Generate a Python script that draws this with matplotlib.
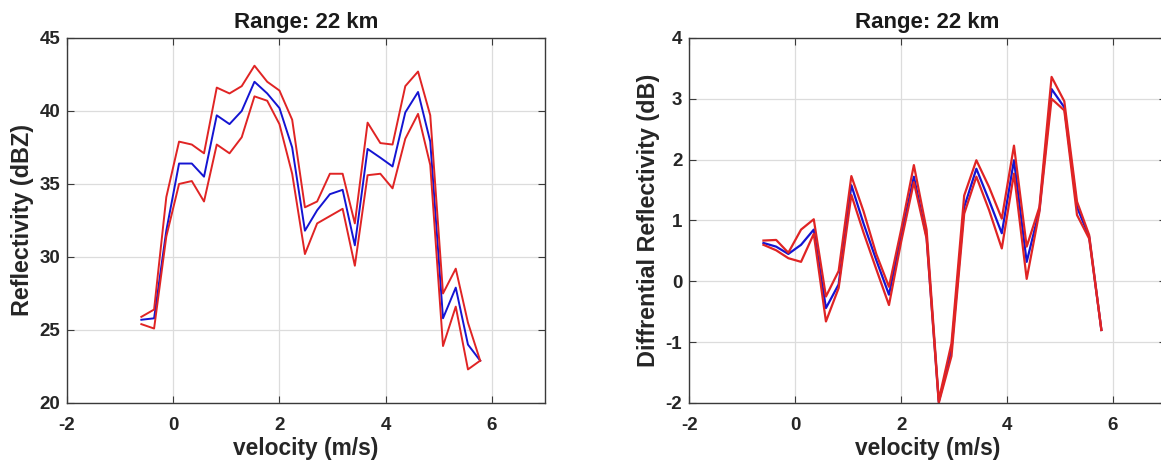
import numpy as np
import matplotlib.pyplot as plt

plt.rcParams['font.family'] = ['Liberation Sans', 'DejaVu Sans']
plt.rcParams['font.weight'] = 'bold'
plt.rcParams['axes.unicode_minus'] = False

# velocity bins (m/s)
velocity = [-0.60, -0.36, -0.13, 0.11, 0.35, 0.58, 0.82, 1.06, 1.29, 1.53,
            1.77, 2.00, 2.24, 2.48, 2.71, 2.95, 3.19, 3.42, 3.66, 3.90,
            4.13, 4.37, 4.61, 4.84, 5.08, 5.32, 5.55, 5.78]

# reflectivity (dBZ): mean and upper/lower bounds
refl_mean = [25.7, 25.8, 31.8, 36.4, 36.4, 35.5, 39.7, 39.1, 40.0, 42.0,
             41.2, 40.2, 37.5, 31.8, 33.2, 34.3, 34.6, 30.8, 37.4, 36.8,
             36.2, 39.9, 41.3, 37.9, 25.8, 27.9, 24.0, 22.9]
refl_upper = [25.9, 26.4, 34.1, 37.9, 37.7, 37.1, 41.6, 41.2, 41.7, 43.1,
              42.0, 41.4, 39.4, 33.4, 33.8, 35.7, 35.7, 32.3, 39.2, 37.8,
              37.7, 41.7, 42.7, 39.7, 27.5, 29.2, 25.5, 22.9]
refl_lower = [25.4, 25.1, 31.4, 35.0, 35.2, 33.8, 37.7, 37.1, 38.2, 41.0,
              40.7, 39.1, 35.7, 30.2, 32.3, 32.8, 33.3, 29.4, 35.6, 35.7,
              34.7, 38.1, 39.8, 36.3, 23.9, 26.6, 22.3, 22.9]

# differential reflectivity (dB): mean and upper/lower bounds
zdr_mean = [0.63, 0.57, 0.45, 0.60, 0.85, -0.44, -0.05, 1.58, 0.95, 0.35,
            -0.22, 0.75, 1.72, 0.73, -1.98, -1.13, 1.22, 1.85, 1.33, 0.79,
            1.99, 0.32, 1.17, 3.16, 2.86, 1.22, 0.73, -0.80]
zdr_upper = [0.67, 0.68, 0.47, 0.85, 1.02, -0.25, 0.17, 1.73, 1.15, 0.45,
             -0.09, 0.85, 1.91, 0.85, -1.95, -1.02, 1.41, 1.99, 1.55, 1.03,
             2.23, 0.57, 1.22, 3.36, 2.96, 1.31, 0.76, -0.80]
zdr_lower = [0.60, 0.51, 0.38, 0.32, 0.78, -0.66, -0.11, 1.42, 0.80, 0.20,
             -0.39, 0.65, 1.63, 0.70, -2.00, -1.23, 1.11, 1.72, 1.17, 0.54,
             1.77, 0.04, 1.14, 3.00, 2.81, 1.09, 0.70, -0.80]

fig = plt.figure(figsize=(11.61, 4.68), dpi=100)
ax1 = fig.add_axes([0.0577, 0.1389, 0.4117, 0.78])
ax2 = fig.add_axes([0.5937, 0.1389, 0.4106, 0.78])

blue = '#1414d2'
red = '#e02424'


def style(ax, ylim, yticks, ylabel):
    ax.set_xlim(-2, 7)
    ax.set_ylim(*ylim)
    ax.set_xticks([-2, 0, 2, 4, 6])
    ax.set_yticks(yticks)
    ax.grid(True, color='#dcdcdc', linewidth=0.9)
    ax.set_axisbelow(True)
    for s in ax.spines.values():
        s.set_color('#3a3a3a')
        s.set_linewidth(1.0)
    ax.tick_params(direction='in', top=True, right=True, length=5,
                   labelsize=13.5, colors='#3a3a3a', labelcolor='#262626')
    ax.tick_params(axis='x', pad=10)
    ax.tick_params(axis='y', pad=5)
    for lab in ax.get_xticklabels() + ax.get_yticklabels():
        lab.set_fontweight('bold')
    ax.set_title('Range: 22 km', fontsize=16, fontweight='bold', pad=7,
                 color='#1a1a1a')
    ax.set_xlabel('velocity (m/s)', fontsize=16.4, fontweight='bold',
                  color='#262626', labelpad=2)
    ax.set_ylabel(ylabel, fontsize=16.8, fontweight='bold', color='#262626',
                  labelpad=4)


ax1.plot(velocity, refl_mean, color=blue, linewidth=1.4)
ax1.plot(velocity, refl_upper, color=red, linewidth=1.4)
ax1.plot(velocity, refl_lower, color=red, linewidth=1.4)
style(ax1, (20, 45), [20, 25, 30, 35, 40, 45], 'Reflectivity (dBZ)')

ax2.plot(velocity, zdr_mean, color=blue, linewidth=1.6)
ax2.plot(velocity, zdr_upper, color=red, linewidth=1.6)
ax2.plot(velocity, zdr_lower, color=red, linewidth=1.6)
style(ax2, (-2, 4), [-2, -1, 0, 1, 2, 3, 4], 'Diffrential Reflectivity (dB)')

fig.savefig('out.png', dpi=100)
